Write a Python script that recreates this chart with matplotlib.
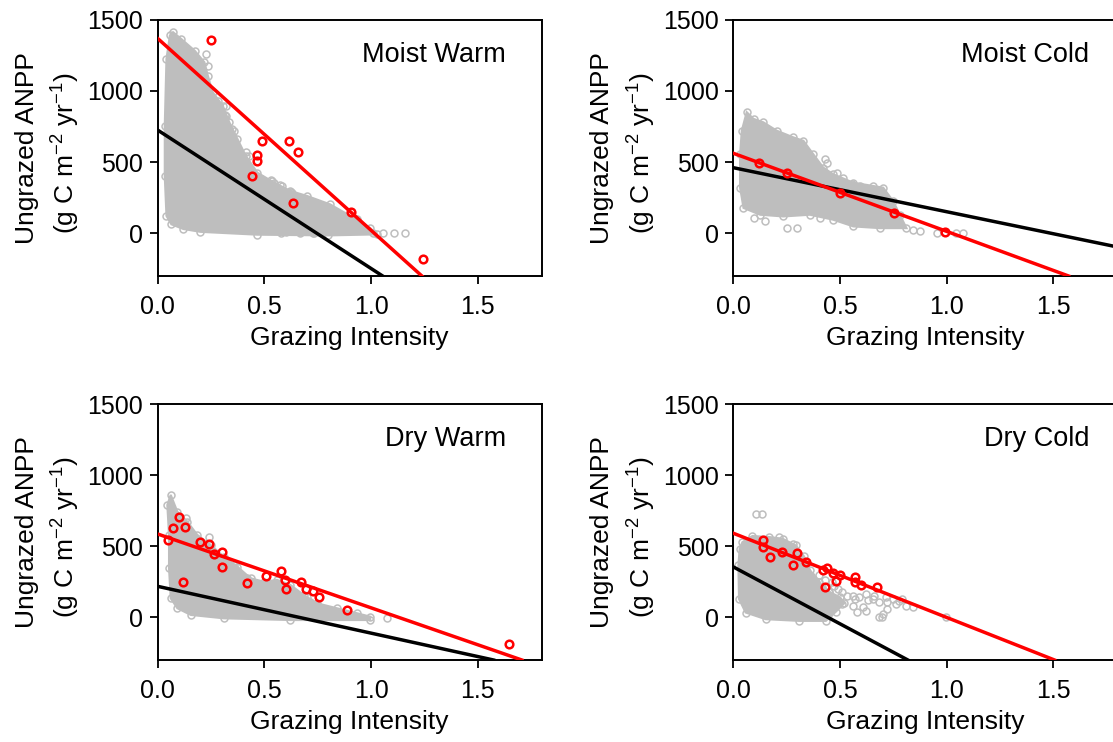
import matplotlib
matplotlib.use("Agg")
import matplotlib.pyplot as plt

plt.rcParams['font.family'] = ['Liberation Sans', 'DejaVu Sans']
plt.rcParams['mathtext.fontset'] = 'custom'
plt.rcParams['mathtext.rm'] = 'Liberation Sans'
plt.rcParams['mathtext.it'] = 'Liberation Sans'

GREY = '#BEBEBE'
RED = '#FF0000'

panel_names = ["Moist Warm", "Moist Cold", "Dry Warm", "Dry Cold"]
x_ticks = [0.0, 0.5, 1.0, 1.5]
x_tick_labels = ["0.0", "0.5", "1.0", "1.5"]
y_ticks = [0, 500, 1000, 1500]
y_tick_labels = ["0", "500", "1000", "1500"]

# ---- Moist Warm ----
mw_red_x = [0.25, 0.488, 0.617, 0.658, 0.467, 0.467, 0.442, 0.633, 0.908, 1.242]
mw_red_y = [1355, 645, 650, 568, 551, 509, 404, 213, 150, -182]
mw_cloud_x = [0.072, 0.11, 0.173, 0.219, 0.235, 0.258, 0.305, 0.336, 0.374, 0.413, 0.467, 0.545,
              0.622, 0.70, 0.808, 0.932, 0.995, 1.026, 0.80, 0.467, 0.20, 0.12, 0.064, 0.041,
              0.033, 0.033, 0.041, 0.057]
mw_cloud_y = [1411, 1364, 1282, 1200, 1106, 989, 895, 778, 661, 543, 426, 356,
              297, 262, 203, 97, 38, -8, -15, -10, 10, 30, 63, 122,
              400, 755, 1223, 1388]
mw_out_x = [0.227, 0.235, 0.281, 0.32, 0.32, 0.359, 0.413, 0.429, 0.483, 0.537, 0.584, 0.63,
            0.576, 0.669, 0.73, 1.01, 1.058, 1.108, 1.158, 0.267, 0.317, 0.35, 0.533, 0.575,
            0.625, 0.6, 0.667, 0.733]
mw_out_y = [1259, 1177, 931, 896, 826, 720, 568, 544, 380, 369, 333, 286,
            0, 4, 0, 0, 0, 0, 0, 864, 829, 729, 374, 339,
            292, 7, 7, 0]
mw_red_fit = (1367, -1346)     # intercept, slope
mw_black_fit = (724, -971)

# ---- Moist Cold ----
mc_red_x = [0.121, 0.253, 0.5, 0.752, 0.993]
mc_red_y = [491, 421, 280, 140, 12]
mc_cloud_x = [0.062, 0.094, 0.14, 0.203, 0.281, 0.328, 0.374, 0.421, 0.468, 0.562, 0.655, 0.702,
              0.749, 0.78, 0.811, 0.686, 0.562, 0.468, 0.359, 0.234, 0.125, 0.047, 0.031,
              0.031, 0.039]
mc_cloud_y = [850, 803, 779, 720, 673, 649, 555, 461, 414, 355, 332, 320,
              225, 130, 36, 36, 48, 95, 130, 118, 130, 178, 320,
              555, 720]
mc_out_x = [0.094, 0.148, 0.203, 0.25, 0.296, 0.406, 0.484, 0.515, 0.554, 0.593, 0.842, 0.874,
            0.952, 1.045, 1.076, 0.429, 0.437]
mc_out_y = [107, 84, 155, 36, 36, 107, 426, 391, 343, 332, 24, 17,
            0, 0, 0, 520, 496]
mc_red_fit = (561, -548)
mc_black_fit = (460, -309)

# ---- Dry Warm ----
dw_red_x = [0.05, 0.07, 0.10, 0.13, 0.12, 0.20, 0.242, 0.262, 0.30, 0.30, 0.417, 0.508, 0.578,
            0.597, 0.60, 0.67, 0.697, 0.728, 0.758, 0.887, 1.647]
dw_red_y = [544, 628, 708, 637, 251, 527, 516, 445, 462, 356, 239, 291, 328,
            262, 202, 246, 199, 183, 141, 52, -187]
dw_cloud_x = [0.061, 0.092, 0.139, 0.186, 0.248, 0.31, 0.373, 0.435, 0.497, 0.56, 0.622, 0.684,
              0.747, 0.84, 0.934, 0.996, 0.996, 0.622, 0.31, 0.155, 0.092, 0.061, 0.053,
              0.053, 0.045]
dw_cloud_y = [861, 743, 673, 579, 510, 427, 357, 275, 251, 263, 228, 158,
              99, 64, 29, 5, -19, -19, -7, 17, 64, 134, 345,
              579, 790]
dw_out_x = [0.131, 0.24, 0.38, 0.42, 0.466, 0.513, 0.653, 0.716, 0.747, 1.075, 0.358, 0.387, 0.7]
dw_out_y = [697, 567, 303, 280, 186, 228, 134, 111, 87, -7, 368, 298, 145]
dw_red_fit = (586, -519)
dw_black_fit = (218, -329)

# ---- Dry Cold ----
dc_red_x = [0.139, 0.137, 0.17, 0.228, 0.278, 0.30, 0.339, 0.418, 0.44, 0.43, 0.468, 0.479,
            0.50, 0.569, 0.572, 0.60, 0.671]
dc_red_y = [544, 497, 422, 457, 368, 450, 386, 333, 350, 216, 311, 255,
            297, 283, 251, 227, 211]
dc_cloud_x = [0.042, 0.089, 0.167, 0.23, 0.292, 0.33, 0.36, 0.40, 0.45, 0.50, 0.52, 0.48,
              0.433, 0.308, 0.151, 0.057, 0.026, 0.023, 0.029]
dc_cloud_y = [529, 572, 565, 553, 506, 430, 330, 250, 180, 140, 100, 40,
              -25, -25, -13, 34, 129, 365, 482]
dc_out_x = [0.464, 0.511, 0.558, 0.59, 0.621, 0.652, 0.683, 0.715, 0.746, 0.777, 0.808, 0.84,
            0.699, 0.683, 0.464, 0.511, 0.558, 0.605, 0.417, 0.386, 0.339, 0.308, 0.362, 0.417,
            0.449, 0.104, 0.133, 0.214, 0.277, 0.996, 0.443, 0.694,
            0.40, 0.43, 0.47, 0.49, 0.53, 0.57, 0.63, 0.66, 0.72, 0.76, 0.79, 0.62, 0.72, 0.58]
dc_out_y = [247, 176, 153, 141, 164, 129, 105, 141, 129, 117, 82, 70,
            23, 0, 93, 93, 82, 70, 129, 247, 317, 353, 294, 211,
            176, 730, 730, 565, 518, 0, 16, 0,
            300, 260, 220, 200, 150, 130, 120, 150, 110, 95, 130, 45, 60, 40]
dc_red_fit = (591, -592)
dc_black_fit = (354, -800)

panels = [
    (mw_cloud_x, mw_cloud_y, mw_out_x, mw_out_y, mw_red_x, mw_red_y, mw_red_fit, mw_black_fit),
    (mc_cloud_x, mc_cloud_y, mc_out_x, mc_out_y, mc_red_x, mc_red_y, mc_red_fit, mc_black_fit),
    (dw_cloud_x, dw_cloud_y, dw_out_x, dw_out_y, dw_red_x, dw_red_y, dw_red_fit, dw_black_fit),
    (dc_cloud_x, dc_cloud_y, dc_out_x, dc_out_y, dc_red_x, dc_red_y, dc_red_fit, dc_black_fit),
]

W, H = 1113, 742
fig = plt.figure(figsize=(W / 100, H / 100), dpi=100)

positions = [
    [0.1417, 0.628, 0.345, 0.3457],
    [0.659, 0.628, 0.345, 0.3457],
    [0.1417, 0.1105, 0.345, 0.345],
    [0.659, 0.1105, 0.345, 0.345],
]
title_x = [0.907, 0.927, 0.907, 0.927]

for i, (pos, name, data) in enumerate(zip(positions, panel_names, panels)):
    cx, cy, ox, oy, rx, ry, rfit, bfit = data
    ax = fig.add_axes(pos)
    ax.set_xlim(0, 1.8)
    ax.set_ylim(-300, 1500)
    # grey cloud (dense core + edge circles + outliers)
    ax.fill(cx, cy, color=GREY, lw=1.5, ec=GREY, zorder=1)
    ax.plot(cx, cy, ls='none', marker='o', ms=5, mfc='none', mec=GREY, mew=1.1, zorder=1)
    ax.plot(ox, oy, ls='none', marker='o', ms=5, mfc='none', mec=GREY, mew=1.1, zorder=1)
    # fitted lines
    ax.axline((0, bfit[0]), slope=bfit[1], color='black', lw=2.5, zorder=2)
    ax.axline((0, rfit[0]), slope=rfit[1], color=RED, lw=2.5, zorder=3)
    ax.plot(rx, ry, ls='none', marker='o', ms=5.5, mfc='none', mec=RED, mew=1.8, zorder=4)

    ax.set_xticks(x_ticks)
    ax.set_xticklabels(x_tick_labels)
    ax.set_yticks(y_ticks)
    ax.set_yticklabels(y_tick_labels)
    ax.tick_params(direction='out', length=5.5, width=1.3, labelsize=18, pad=5)
    ax.tick_params(axis='x', pad=8)
    for sp in ax.spines.values():
        sp.set_linewidth(1.4)
    ax.set_xlabel("Grazing Intensity", fontsize=19, labelpad=5)
    ax.text(-0.3417, 0.5, "Ungrazed ANPP", rotation=90, ha='center', va='center',
            transform=ax.transAxes, fontsize=19)
    ax.text(-0.2388, 0.48, r"(g C m$^{-2}$ yr$^{-1}$)", rotation=90, ha='center', va='center',
            transform=ax.transAxes, fontsize=19)
    ax.text(title_x[i], 0.8355, name, ha='right', va='baseline',
            transform=ax.transAxes, fontsize=19.5)

fig.savefig("out.png", dpi=100)
